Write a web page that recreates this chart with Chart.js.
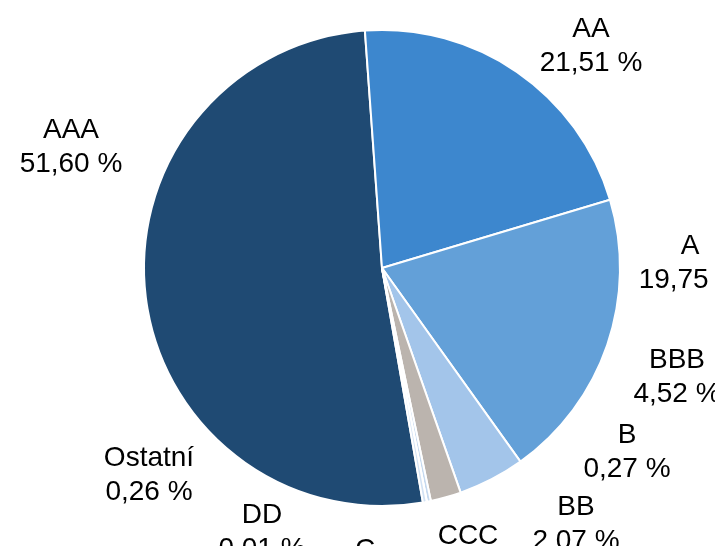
<!DOCTYPE html>
<html>
<head>
<meta charset="utf-8">
<script src="https://cdn.jsdelivr.net/npm/chart.js@4/dist/chart.umd.min.js"></script>
<style>
html,body{margin:0;padding:0;background:#fff;}
#wrap{width:715px;height:546px;position:relative;}
</style>
</head>
<body>
<div id="wrap"><canvas id="c" width="715" height="546"></canvas></div>
<script>
const categories = ["AAA", "AA", "A", "BBB", "BB", "B", "CCC", "C", "DD", "Ostatní"];
const values = [51.60, 21.51, 19.75, 4.52, 2.07, 0.27, 0.00, 0.00, 0.01, 0.26];
const valueLabels = ["51,60 %", "21,51 %", "19,75 %", "4,52 %", "2,07 %", "0,27 %", "0,00 %", "0,00 %", "0,01 %", "0,26 %"];
const colors = ["#1F4A73", "#3D87CE", "#63A0D8", "#A3C5EA", "#BBB4AE", "#C5D9EF", "#B5CFEB", "#A9C8EA", "#9CC0E8", "#D2E2F4"];

// label anchor offsets relative to pie centre (x centre, first baseline)
const labelOffsets = {
  "AAA": [-311, -130], "AA": [209, -231], "A": [308, -14], "BBB": [295, 100],
  "BB": [194, 247], "B": [245, 175], "CCC": [86, 276], "C": [-17, 290],
  "DD": [-120, 255], "Ostatní": [-233, 198]
};

const labelPlugin = {
  id: 'outerLabels',
  afterDatasetsDraw(chart) {
    const ctx = chart.ctx;
    const meta = chart.getDatasetMeta(0);
    const arc0 = meta.data[0];
    const cx = arc0.x, cy = arc0.y;
    ctx.save();
    ctx.font = '28px "Liberation Sans", Arial, sans-serif';
    ctx.fillStyle = '#000';
    ctx.textAlign = 'center';
    ctx.textBaseline = 'alphabetic';
    categories.forEach((cat, i) => {
      const off = labelOffsets[cat];
      const x = cx + off[0], y = cy + off[1];
      ctx.fillText(cat, x, y);
      ctx.fillText(valueLabels[i], x, y + 34);
    });
    ctx.restore();
  }
};

new Chart(document.getElementById('c'), {
  type: 'pie',
  data: {
    labels: categories,
    datasets: [{
      data: values,
      backgroundColor: colors,
      borderColor: '#ffffff',
      borderWidth: 2
    }]
  },
  options: {
    responsive: false,
    animation: false,
    rotation: 170.1,
    layout: { padding: { left: 143, right: 94, top: 29, bottom: 39 } },
    plugins: { legend: { display: false }, tooltip: { enabled: false } }
  },
  plugins: [labelPlugin]
});
</script>
</body>
</html>
